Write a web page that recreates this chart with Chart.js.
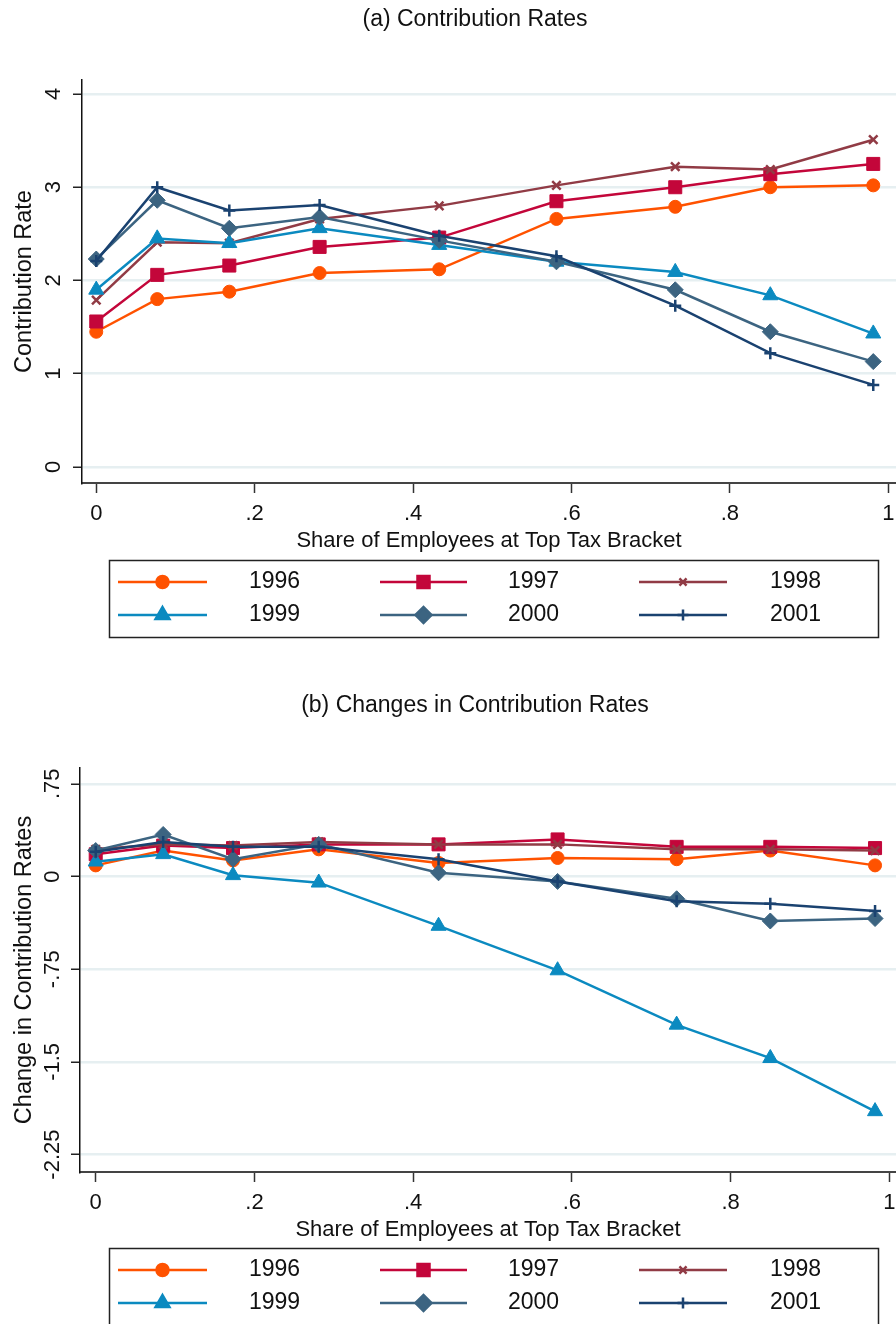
<!DOCTYPE html>
<html>
<head>
<meta charset="utf-8">
<title>Contribution Rates by Share of Employees at Top Tax Bracket</title>
<script src="https://cdn.jsdelivr.net/npm/chart.js@4.4.0/dist/chart.umd.min.js"></script>
<style>
  html, body { margin: 0; padding: 0; background: #fff; }
  .panel { position: absolute; left: 0; width: 896px; height: 662px; }
</style>
</head>
<body>
<div class="panel" style="top:0"><canvas id="rateChart" width="896" height="662"></canvas></div>
<div class="panel" style="top:662px"><canvas id="changeChart" width="896" height="662"></canvas></div>
<script>
const years = ['1996', '1997', '1998', '1999', '2000', '2001'];
const colors = ['#ff5200', '#c3063a', '#913b45', '#0b8ac0', '#3c6481', '#1a4270'];

// (a) contribution rate by share of employees at top bracket
const shareA = [0, 0.077, 0.168, 0.282, 0.433, 0.581, 0.731, 0.851, 0.981];
const rate1996 = [1.45, 1.80, 1.88, 2.08, 2.12, 2.66, 2.79, 3.00, 3.02];
const rate1997 = [1.56, 2.06, 2.16, 2.36, 2.46, 2.85, 3.00, 3.14, 3.25];
const rate1998 = [1.79, 2.41, 2.40, 2.66, 2.80, 3.02, 3.22, 3.19, 3.51];
const rate1999 = [1.90, 2.45, 2.40, 2.56, 2.38, 2.20, 2.09, 1.84, 1.43];
const rate2000 = [2.23, 2.86, 2.56, 2.68, 2.43, 2.20, 1.90, 1.45, 1.13];
const rate2001 = [2.21, 3.00, 2.75, 2.81, 2.48, 2.26, 1.73, 1.22, 0.88];

// (b) change in contribution rate
const shareB = [0, 0.085, 0.173, 0.281, 0.432, 0.582, 0.732, 0.850, 0.982];
const change1996 = [0.09, 0.21, 0.13, 0.22, 0.11, 0.15, 0.14, 0.21, 0.09];
const change1997 = [0.18, 0.25, 0.23, 0.26, 0.26, 0.30, 0.24, 0.24, 0.23];
const change1998 = [0.22, 0.26, 0.25, 0.28, 0.26, 0.26, 0.22, 0.22, 0.21];
const change1999 = [0.12, 0.18, 0.01, -0.05, -0.40, -0.76, -1.20, -1.47, -1.90];
const change2000 = [0.21, 0.34, 0.14, 0.26, 0.03, -0.04, -0.18, -0.36, -0.34];
const change2001 = [0.20, 0.28, 0.24, 0.24, 0.14, -0.04, -0.20, -0.22, -0.28];

const xTicks = [0, 0.2, 0.4, 0.6, 0.8, 1];
const xTickLabels = ['0', '.2', '.4', '.6', '.8', '1'];
const yTicksA = [0, 1, 2, 3, 4];
const yTickLabelsA = ['0', '1', '2', '3', '4'];
const yTicksB = [-2.25, -1.5, -0.75, 0, 0.75];
const yTickLabelsB = ['-2.25', '-1.5', '-.75', '0', '.75'];

const FONT = '"Liberation Sans", Arial, Helvetica, sans-serif';
Chart.defaults.font.family = FONT;
Chart.defaults.color = '#111';

// marker per year: style, radius on the plot, radius in the key
const markers = [
    { style: 'circle',   r: 6.5, lr: 6 },
    { style: 'rect',     r: 9.2, lr: 8.5 },
    { style: 'crossRot', r: 6,   lr: 5 },
    { style: 'triangle', r: 8.7, lr: 8 },
    { style: 'rectRot',  r: 8,   lr: 8 },
    { style: 'cross',    r: 6,   lr: 5.5 }
];

function buildDatasets(xs, series) {
    return series.map((vals, i) => ({
        label: years[i],
        data: vals.map((v, j) => ({ x: xs[j], y: v })),
        borderColor: colors[i],
        backgroundColor: colors[i],
        borderWidth: 2.5,
        tension: 0,
        fill: false,
        pointStyle: markers[i].style,
        pointRadius: markers[i].r,
        pointBorderWidth: markers[i].style.indexOf('cross') === 0 ? 2.5 : 1,
        pointBackgroundColor: colors[i],
        pointBorderColor: colors[i],
        order: series.length - i   // later years drawn on top
    }));
}

// title + boxed key, drawn after the chart
const decor = {
    id: 'decor',
    afterDraw(chart, args, o) {
        const ctx = chart.ctx;
        ctx.save();
        ctx.fillStyle = '#111';
        ctx.font = '23px ' + FONT;
        ctx.textAlign = 'center';
        ctx.textBaseline = 'middle';
        ctx.fillText(o.title, 475, o.titleY);

        ctx.strokeStyle = '#222';
        ctx.lineWidth = 1.5;
        ctx.strokeRect(109.5, o.boxTop + 0.5, 769, o.boxBottom - o.boxTop);

        const lineFrom = [118, 380, 639];
        const lineTo = [207, 467, 727];
        const textAt = [249, 508, 770];
        chart.data.datasets.forEach((ds, i) => {
            const c = i % 3;
            const y = o.rows[Math.floor(i / 3)];
            ctx.strokeStyle = ds.borderColor;
            ctx.lineWidth = 2.5;
            ctx.beginPath();
            ctx.moveTo(lineFrom[c], y);
            ctx.lineTo(lineTo[c], y);
            ctx.stroke();
            ctx.fillStyle = ds.borderColor;
            Chart.helpers.drawPoint(ctx, {
                pointStyle: ds.pointStyle,
                radius: markers[i].lr,
                rotation: 0,
                borderWidth: ds.pointBorderWidth
            }, (lineFrom[c] + lineTo[c]) / 2, y);
            ctx.fillStyle = '#111';
            ctx.textAlign = 'left';
            ctx.fillText(ds.label, textAt[c], y);
        });
        ctx.restore();
    }
};

function makeChart(id, cfg) {
    return new Chart(document.getElementById(id).getContext('2d'), {
        type: 'line',
        data: { datasets: buildDatasets(cfg.xs, cfg.series) },
        options: {
            responsive: false,
            animation: false,
            events: [],
            layout: { autoPadding: false, padding: { top: cfg.top, bottom: cfg.bottom, left: 0, right: 0 } },
            scales: {
                x: {
                    type: 'linear',
                    min: cfg.xMin,
                    max: cfg.xMax,
                    afterBuildTicks: s => { s.ticks = xTicks.map(v => ({ value: v })); },
                    afterFit: s => { s.height = 80; s.paddingLeft = 0; s.paddingRight = 0; },
                    ticks: {
                        callback: (v, i) => xTickLabels[i],
                        padding: 8,
                        font: { size: 22 },
                        maxRotation: 0,
                        autoSkip: false
                    },
                    grid: { drawOnChartArea: false, drawTicks: true, tickLength: 10, tickColor: '#333', tickWidth: 1.5 },
                    border: { color: '#444', width: 2 },
                    title: {
                        display: true,
                        text: 'Share of Employees at Top Tax Bracket',
                        font: { size: 22 },
                        padding: { top: 0, bottom: 9 }
                    }
                },
                y: {
                    type: 'linear',
                    min: cfg.yMin,
                    max: cfg.yMax,
                    afterBuildTicks: s => { s.ticks = cfg.yTicks.map(v => ({ value: v })); },
                    afterFit: s => { s.width = cfg.axisLeft; s.paddingTop = 0; s.paddingBottom = 0; },
                    ticks: {
                        callback: (v, i) => cfg.yLabels[i],
                        minRotation: 90,
                        maxRotation: 90,
                        crossAlign: 'center',
                        padding: cfg.yTickPad,
                        font: { size: 22 },
                        autoSkip: false
                    },
                    grid: { color: '#e6eff1', lineWidth: 2.5, drawTicks: true, tickLength: 9, tickColor: '#222', tickWidth: 1.5 },
                    border: { color: '#111', width: 1.5 },
                    title: {
                        display: true,
                        text: cfg.yTitle,
                        font: { size: 23.5 },
                        padding: { top: 10, bottom: 0 }
                    }
                }
            },
            plugins: {
                legend: { display: false },
                tooltip: { enabled: false },
                decor: cfg.decor
            }
        },
        plugins: [decor]
    });
}

makeChart('rateChart', {
    xs: shareA,
    series: [rate1996, rate1997, rate1998, rate1999, rate2000, rate2001],
    top: 80, bottom: 99, axisLeft: 82,
    xMin: -0.018, xMax: 1.0097,
    yMin: -0.172, yMax: 4.15,
    yTicks: yTicksA, yLabels: yTickLabelsA, yTickPad: 13,
    yTitle: 'Contribution Rate',
    decor: { title: '(a) Contribution Rates', titleY: 20, rows: [582, 615], boxTop: 560, boxBottom: 637 }
});

makeChart('changeChart', {
    xs: shareB,
    series: [change1996, change1997, change1998, change1999, change2000, change2001],
    top: 106, bottom: 72, axisLeft: 80,
    xMin: -0.0198, xMax: 1.0084,
    yMin: -2.391, yMax: 0.878,
    yTicks: yTicksB, yLabels: yTickLabelsB, yTickPad: -7,
    yTitle: 'Change in Contribution Rates',
    decor: { title: '(b) Changes in Contribution Rates', titleY: 44, rows: [608, 641], boxTop: 586, boxBottom: 663 }
});
</script>
</body>
</html>
